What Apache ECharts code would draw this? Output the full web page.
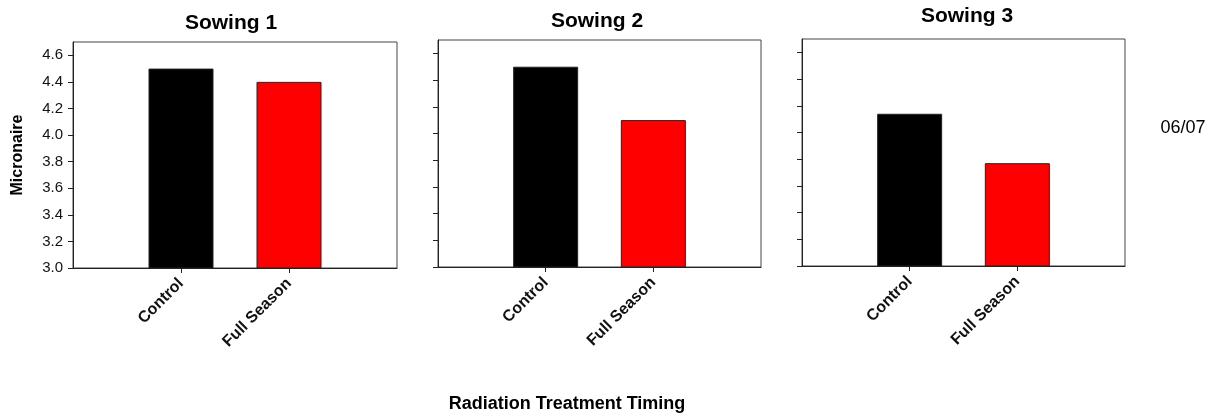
<!DOCTYPE html>
<html>
<head>
<meta charset="utf-8">
<title>Micronaire by radiation treatment timing</title>
<script src="https://cdn.jsdelivr.net/npm/echarts@6/dist/echarts.min.js"></script>
<style>
  html, body { margin: 0; padding: 0; background: #fff; }
  #chart { width: 1215px; height: 419px; }
</style>
</head>
<body>
<div id="chart"></div>
<script>
// Treatments shown on every panel
const categories = ['Control', 'Full Season'];
// Panel titles (one per sowing date)
const sowings = ['Sowing 1', 'Sowing 2', 'Sowing 3'];
// Micronaire readings per sowing, in the order of `categories`
const sowing1 = [4.50, 4.40];
const sowing2 = [4.50, 4.10];
const sowing3 = [4.14, 3.77];
// Y tick values
const yTicks = [3.0, 3.2, 3.4, 3.6, 3.8, 4.0, 4.2, 4.4, 4.6];
const yMin = 3.0;
const yMax = 4.7;
const barColors = ['#000000', '#ff0000'];

const panelValues = [sowing1, sowing2, sowing3];
const FONT = '"Liberation Sans", Arial, Helvetica, sans-serif';

// plot boxes of the three panels
const grids = [
  { left: 73,  top: 42, width: 324, height: 226 },
  { left: 438, top: 40, width: 323, height: 227 },
  { left: 802, top: 39, width: 323, height: 227 }
];
const titlePos = [[231, 23], [597, 21.5], [967, 16]];

// padded category list so the two bars sit at 1/3 and 2/3 of each box
const axisCats = [''].concat(categories, ['']);

const option = {
  animation: false,
  backgroundColor: '#ffffff',
  grid: grids.map(g => Object.assign({
    show: true, borderColor: '#444', borderWidth: 1, backgroundColor: '#fff'
  }, g)),
  xAxis: grids.map((g, i) => ({
    type: 'category',
    gridIndex: i,
    data: axisCats,
    boundaryGap: false,
    axisLine: { show: true, lineStyle: { color: '#222', width: 1 } },
    axisTick: {
      show: true,
      length: 5,
      interval: (idx) => idx === 1 || idx === 2,
      lineStyle: { color: '#222' }
    },
    axisLabel: {
      interval: (idx) => idx === 1 || idx === 2,
      rotate: 45,
      margin: 13,
      fontFamily: FONT,
      fontWeight: 'bold',
      fontSize: 16,
      color: '#111'
    },
    splitLine: { show: false }
  })),
  yAxis: grids.map((g, i) => ({
    type: 'value',
    gridIndex: i,
    min: yMin,
    max: yMax,
    interval: 0.2,
    axisLine: { show: true, lineStyle: { color: '#222', width: 1 } },
    axisTick: {
      show: true,
      length: 5,
      customValues: yTicks,
      lineStyle: { color: '#222' }
    },
    axisLabel: {
      show: i === 0,
      customValues: yTicks,
      margin: 10,
      formatter: v => Number(v).toFixed(1),
      fontFamily: FONT,
      fontSize: 15,
      color: '#111'
    },
    splitLine: { show: false }
  })),
  series: panelValues.map((vals, i) => ({
    type: 'bar',
    xAxisIndex: i,
    yAxisIndex: i,
    barWidth: 65,
    data: ['-'].concat(vals.map((v, j) => ({
      value: v,
      itemStyle: { color: barColors[j], borderColor: '#222', borderWidth: 1 }
    })), ['-'])
  })),
  graphic: [
    ...sowings.map((t, i) => ({
      type: 'text',
      x: titlePos[i][0],
      y: titlePos[i][1],
      style: {
        text: t,
        font: 'bold 21px ' + FONT,
        fill: '#000',
        align: 'center',
        verticalAlign: 'middle'
      }
    })),
    {
      type: 'text',
      x: 18,
      y: 155,
      rotation: Math.PI / 2,
      style: {
        text: 'Micronaire',
        font: 'bold 16px ' + FONT,
        fill: '#000',
        align: 'center',
        verticalAlign: 'middle'
      }
    },
    {
      type: 'text',
      x: 567,
      y: 404,
      style: {
        text: 'Radiation Treatment Timing',
        font: 'bold 18px ' + FONT,
        fill: '#000',
        align: 'center',
        verticalAlign: 'middle'
      }
    },
    {
      type: 'text',
      x: 1183,
      y: 128,
      style: {
        text: '06/07',
        font: '18px ' + FONT,
        fill: '#000',
        align: 'center',
        verticalAlign: 'middle'
      }
    }
  ]
};

const chart = echarts.init(document.getElementById('chart'), null, { renderer: 'canvas' });
chart.setOption(option);
</script>
</body>
</html>
